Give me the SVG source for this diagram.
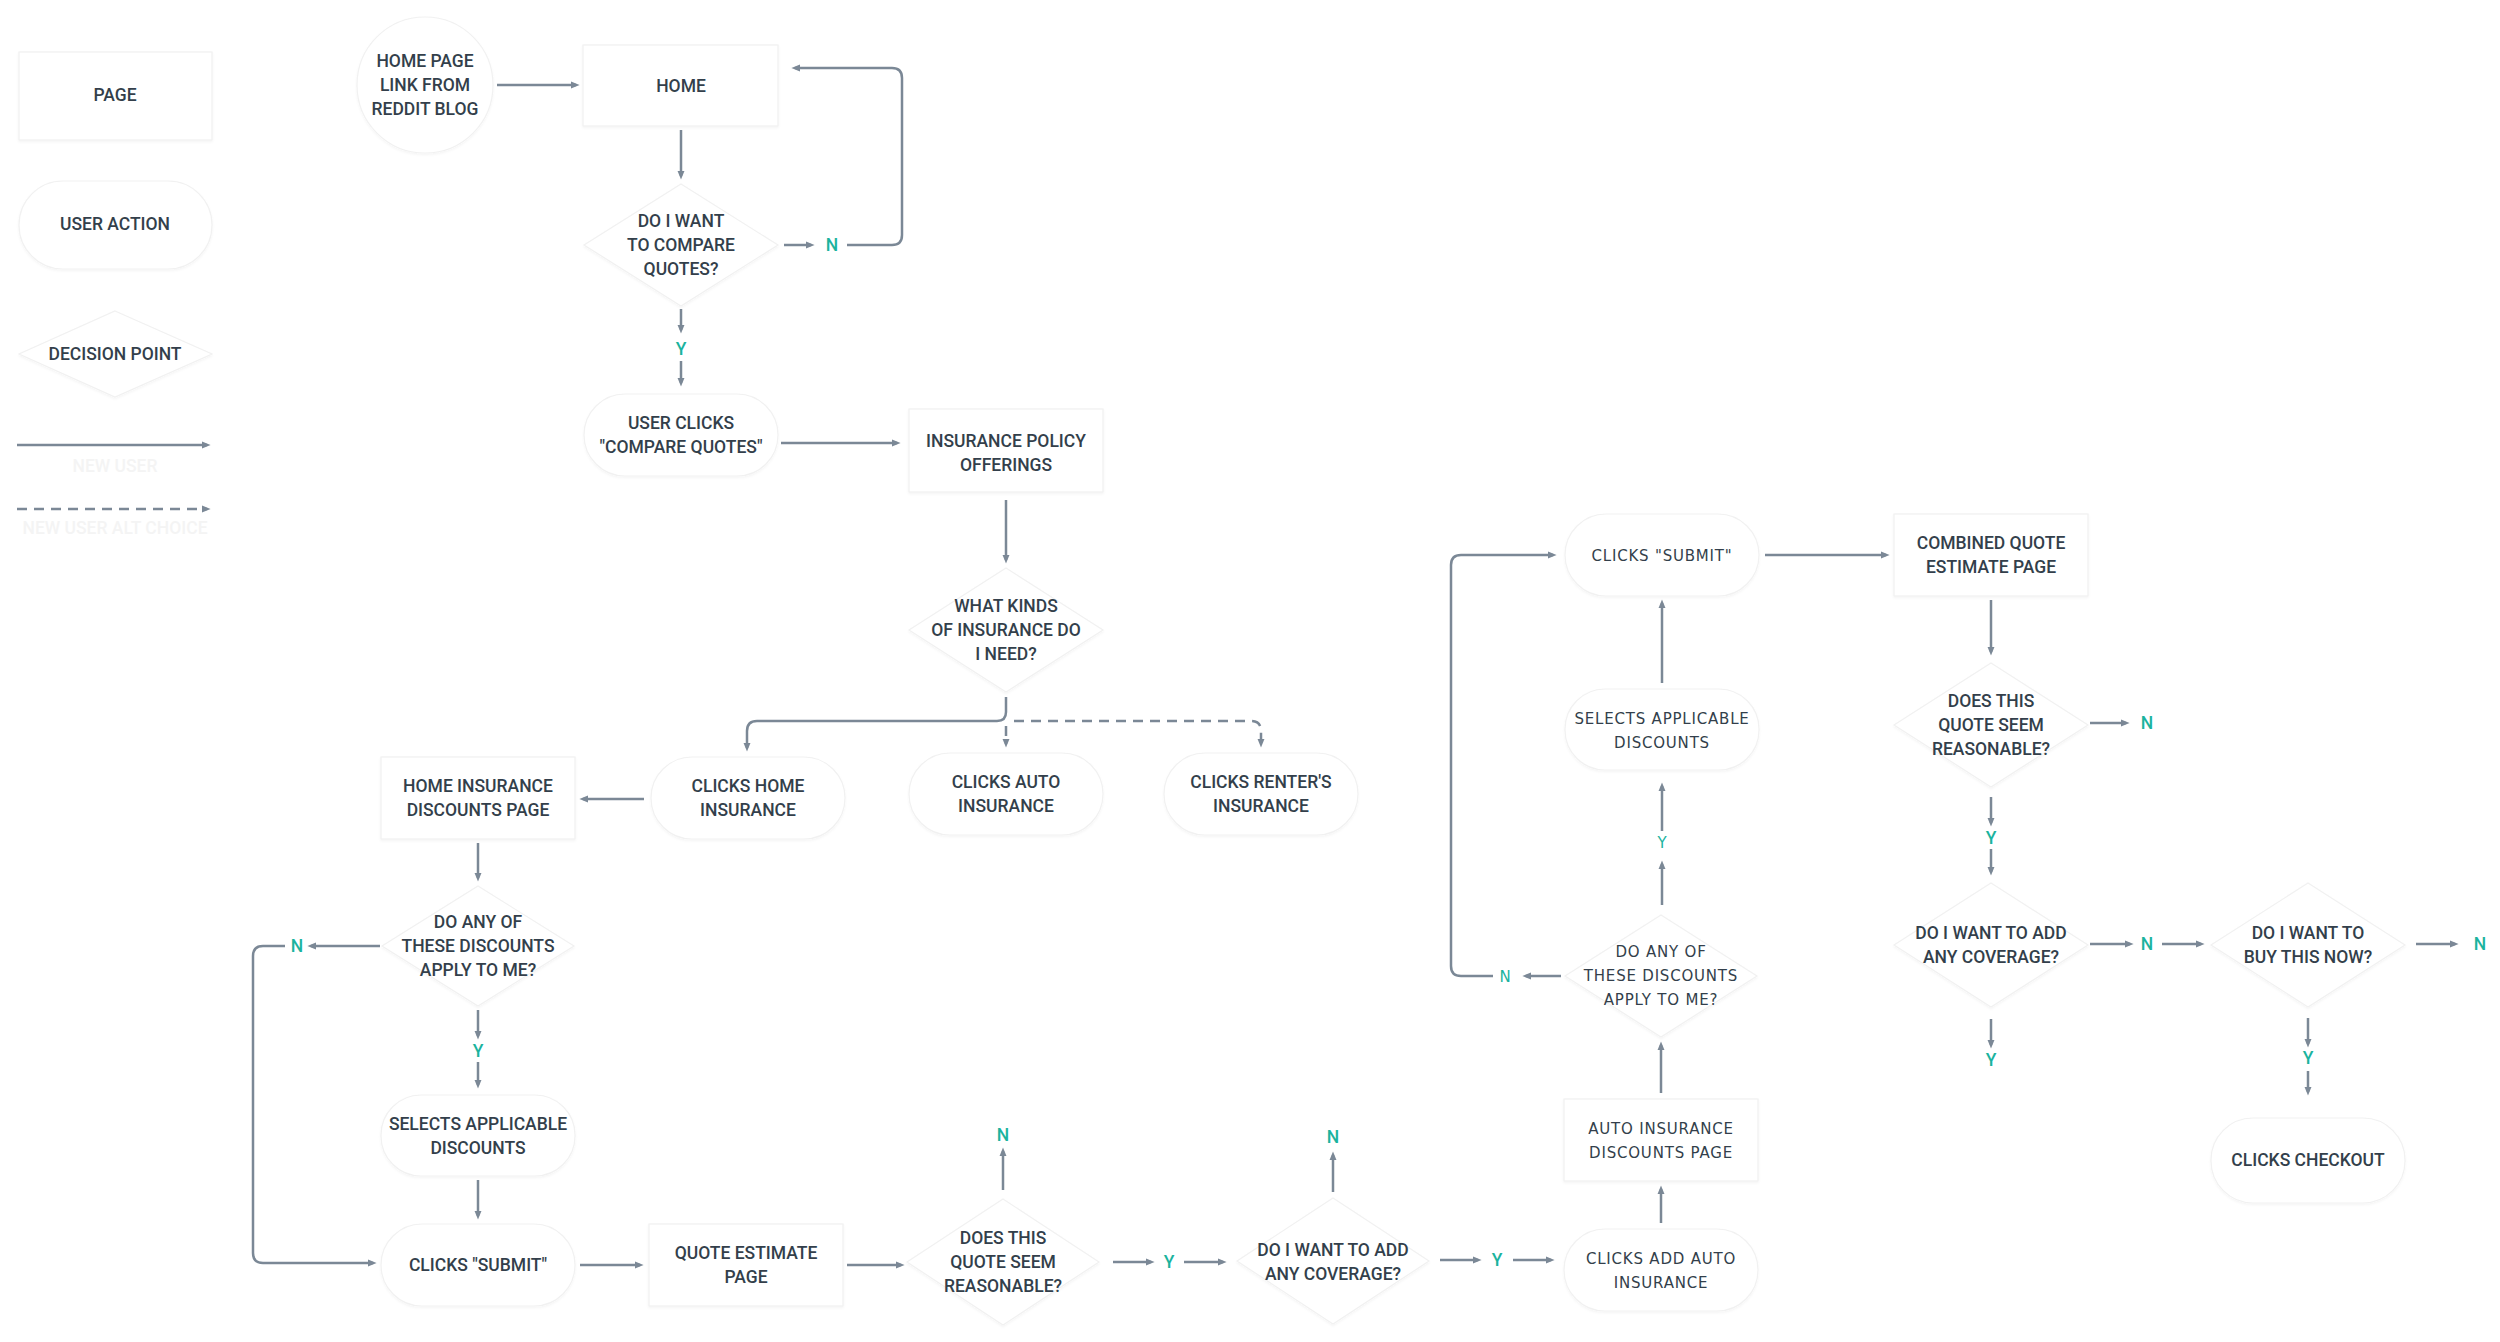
<svg xmlns="http://www.w3.org/2000/svg" width="2500" height="1342" viewBox="0 0 2500 1342">
<defs>
<marker id="ah" viewBox="0 0 10 10" refX="6" refY="5" markerWidth="9" markerHeight="9" markerUnits="userSpaceOnUse" orient="auto"><path d="M0,1 L10,5 L0,9 z" fill="#7b8896"/></marker>
<filter id="sh" x="-10%" y="-10%" width="120%" height="130%"><feDropShadow dx="0" dy="1.5" stdDeviation="1.2" flood-color="#000" flood-opacity="0.045"/></filter>
</defs>
<style>
.n{fill:#fff;stroke:#f1f1f1;stroke-width:1.2;filter:url(#sh)}
.t{font-family:Roboto,"Liberation Sans",sans-serif;font-size:17.5px;font-weight:500;fill:#333f4b;text-anchor:middle}
.w{font-family:"DejaVu Sans","Liberation Sans",sans-serif;font-size:15px;letter-spacing:0.8px;fill:#333f4b;text-anchor:middle}
.yn{font-family:Roboto,"Liberation Sans",sans-serif;font-size:17.5px;font-weight:500;fill:#1bb39e;text-anchor:middle}
.ynw{font-family:"DejaVu Sans","Liberation Sans",sans-serif;font-size:15px;fill:#1bb39e;text-anchor:middle}
.ghost{font-family:Roboto,"Liberation Sans",sans-serif;font-size:17.5px;font-weight:500;fill:#f4f4f4;text-anchor:middle}
.c{fill:none;stroke:#7b8896;stroke-width:2.5}
.a{marker-end:url(#ah)}
.d{stroke-dasharray:10 7}
</style>
<rect width="2500" height="1342" fill="#fff"/>

<!-- legend -->
<g id="legend-page"><rect class="n" x="19" y="52" width="193" height="88"/><text class="t" x="115" y="101">PAGE</text></g>
<g id="legend-action"><rect class="n" x="19" y="181" width="193" height="88" rx="44"/><text class="t" x="115" y="230">USER ACTION</text></g>
<g id="legend-decision"><polygon class="n" points="115,311 212,354 115,397 19,354"/><text class="t" x="115" y="360">DECISION POINT</text></g>
<g id="legend-lines">
<line class="c a" x1="17" y1="445" x2="207" y2="445"/>
<text class="ghost" x="115" y="472">NEW USER</text>
<line class="c a d" x1="17" y1="509" x2="207" y2="509"/>
<text class="ghost" x="115" y="534">NEW USER ALT CHOICE</text>
</g>

<!-- nodes -->
<g id="n-reddit"><circle class="n" cx="425" cy="85" r="68"/><text class="t" x="425" y="67">HOME PAGE</text><text class="t" x="425" y="91">LINK FROM</text><text class="t" x="425" y="115">REDDIT BLOG</text></g>
<g id="n-home"><rect class="n" x="583" y="45" width="195" height="81"/><text class="t" x="681" y="92">HOME</text></g>
<g id="n-compare"><polygon class="n" points="681,184 778,245 681,306 584,245"/><text class="t" x="681" y="227">DO I WANT</text><text class="t" x="681" y="251">TO COMPARE</text><text class="t" x="681" y="275">QUOTES?</text></g>
<g id="n-userclicks"><rect class="n" x="584" y="394" width="194" height="82" rx="41"/><text class="t" x="681" y="429">USER CLICKS</text><text class="t" x="681" y="453">"COMPARE QUOTES"</text></g>
<g id="n-offerings"><rect class="n" x="909" y="409" width="194" height="83"/><text class="t" x="1006" y="447">INSURANCE POLICY</text><text class="t" x="1006" y="471">OFFERINGS</text></g>
<g id="n-kinds"><polygon class="n" points="1006,568 1103,630 1006,692 909,630"/><text class="t" x="1006" y="612">WHAT KINDS</text><text class="t" x="1006" y="636">OF INSURANCE DO</text><text class="t" x="1006" y="660">I NEED?</text></g>
<g id="n-clickshome"><rect class="n" x="651" y="757" width="194" height="82" rx="41"/><text class="t" x="748" y="792">CLICKS HOME</text><text class="t" x="748" y="816">INSURANCE</text></g>
<g id="n-clicksauto"><rect class="n" x="909" y="753" width="194" height="82" rx="41"/><text class="t" x="1006" y="788">CLICKS AUTO</text><text class="t" x="1006" y="812">INSURANCE</text></g>
<g id="n-clicksrenter"><rect class="n" x="1164" y="753" width="194" height="82" rx="41"/><text class="t" x="1261" y="788">CLICKS RENTER'S</text><text class="t" x="1261" y="812">INSURANCE</text></g>
<g id="n-homedisc"><rect class="n" x="381" y="757" width="194" height="82"/><text class="t" x="478" y="792">HOME INSURANCE</text><text class="t" x="478" y="816">DISCOUNTS PAGE</text></g>
<g id="n-homeapply"><polygon class="n" points="478,886 574,946 478,1006 382,946"/><text class="t" x="478" y="928">DO ANY OF</text><text class="t" x="478" y="952">THESE DISCOUNTS</text><text class="t" x="478" y="976">APPLY TO ME?</text></g>
<g id="n-homeselect"><rect class="n" x="381" y="1095" width="194" height="81" rx="40"/><text class="t" x="478" y="1130">SELECTS APPLICABLE</text><text class="t" x="478" y="1154">DISCOUNTS</text></g>
<g id="n-homesubmit"><rect class="n" x="381" y="1224" width="194" height="82" rx="41"/><text class="t" x="478" y="1271">CLICKS "SUBMIT"</text></g>
<g id="n-quoteest"><rect class="n" x="649" y="1224" width="194" height="82"/><text class="t" x="746" y="1259">QUOTE ESTIMATE</text><text class="t" x="746" y="1283">PAGE</text></g>
<g id="n-reasonable1"><polygon class="n" points="1003,1199 1099,1262 1003,1325 907,1262"/><text class="t" x="1003" y="1244">DOES THIS</text><text class="t" x="1003" y="1268">QUOTE SEEM</text><text class="t" x="1003" y="1292">REASONABLE?</text></g>
<g id="n-coverage1"><polygon class="n" points="1333,1198 1429,1261 1333,1324 1237,1261"/><text class="t" x="1333" y="1256">DO I WANT TO ADD</text><text class="t" x="1333" y="1280">ANY COVERAGE?</text></g>
<g id="n-addauto"><rect class="n" x="1564" y="1229" width="194" height="82" rx="41"/><text class="w" x="1661" y="1264">CLICKS ADD AUTO</text><text class="w" x="1661" y="1288">INSURANCE</text></g>
<g id="n-autodisc"><rect class="n" x="1564" y="1099" width="194" height="82"/><text class="w" x="1661" y="1134">AUTO INSURANCE</text><text class="w" x="1661" y="1158">DISCOUNTS PAGE</text></g>
<g id="n-autoapply"><polygon class="n" points="1661,915 1757,976 1661,1037 1565,976"/><text class="w" x="1661" y="957">DO ANY OF</text><text class="w" x="1661" y="981">THESE DISCOUNTS</text><text class="w" x="1661" y="1005">APPLY TO ME?</text></g>
<g id="n-autoselect"><rect class="n" x="1565" y="689" width="194" height="81" rx="40"/><text class="w" x="1662" y="724">SELECTS APPLICABLE</text><text class="w" x="1662" y="748">DISCOUNTS</text></g>
<g id="n-autosubmit"><rect class="n" x="1565" y="514" width="194" height="82" rx="41"/><text class="w" x="1662" y="561">CLICKS "SUBMIT"</text></g>
<g id="n-combined"><rect class="n" x="1894" y="514" width="194" height="82"/><text class="t" x="1991" y="549">COMBINED QUOTE</text><text class="t" x="1991" y="573">ESTIMATE PAGE</text></g>
<g id="n-reasonable2"><polygon class="n" points="1991,663 2088,725 1991,787 1894,725"/><text class="t" x="1991" y="707">DOES THIS</text><text class="t" x="1991" y="731">QUOTE SEEM</text><text class="t" x="1991" y="755">REASONABLE?</text></g>
<g id="n-coverage2"><polygon class="n" points="1991,883 2088,945 1991,1007 1894,945"/><text class="t" x="1991" y="939">DO I WANT TO ADD</text><text class="t" x="1991" y="963">ANY COVERAGE?</text></g>
<g id="n-buynow"><polygon class="n" points="2308,883 2405,945 2308,1007 2211,945"/><text class="t" x="2308" y="939">DO I WANT TO</text><text class="t" x="2308" y="963">BUY THIS NOW?</text></g>
<g id="n-checkout"><rect class="n" x="2211" y="1118" width="194" height="85" rx="42"/><text class="t" x="2308" y="1166">CLICKS CHECKOUT</text></g>

<!-- connectors -->
<g id="connectors">
<line class="c a" x1="497" y1="85" x2="576" y2="85"/>
<line class="c a" x1="681" y1="130" x2="681" y2="176"/>
<line class="c a" x1="784" y1="245" x2="811" y2="245"/>
<path class="c a" d="M847,245 H892 Q902,245 902,235 V78 Q902,68 892,68 H795"/>
<line class="c a" x1="681" y1="309" x2="681" y2="330"/>
<line class="c a" x1="681" y1="361" x2="681" y2="383"/>
<line class="c a" x1="781" y1="443" x2="897" y2="443"/>
<line class="c a" x1="1006" y1="500" x2="1006" y2="560"/>
<path class="c a" d="M1006,697 V712 Q1006,721 997,721 H757 Q747,721 747,731 V748"/>
<line class="c a d" x1="1006" y1="726" x2="1006" y2="744"/>
<path class="c a d" d="M1014,721 H1251 Q1261,721 1261,731 V744"/>
<line class="c a" x1="644" y1="799" x2="583" y2="799"/>
<line class="c a" x1="478" y1="843" x2="478" y2="878"/>
<line class="c a" x1="380" y1="946" x2="311" y2="946"/>
<path class="c a" d="M285,946 H263 Q253,946 253,956 V1253 Q253,1263 263,1263 H373"/>
<line class="c a" x1="478" y1="1010" x2="478" y2="1036"/>
<line class="c a" x1="478" y1="1062" x2="478" y2="1085"/>
<line class="c a" x1="478" y1="1180" x2="478" y2="1216"/>
<line class="c a" x1="580" y1="1265" x2="640" y2="1265"/>
<line class="c a" x1="847" y1="1265" x2="901" y2="1265"/>
<line class="c a" x1="1003" y1="1190" x2="1003" y2="1151"/>
<line class="c a" x1="1113" y1="1262" x2="1151" y2="1262"/>
<line class="c a" x1="1184" y1="1262" x2="1223" y2="1262"/>
<line class="c a" x1="1333" y1="1192" x2="1333" y2="1155"/>
<line class="c a" x1="1440" y1="1260" x2="1478" y2="1260"/>
<line class="c a" x1="1513" y1="1260" x2="1551" y2="1260"/>
<line class="c a" x1="1661" y1="1223" x2="1661" y2="1189"/>
<line class="c a" x1="1661" y1="1093" x2="1661" y2="1045"/>
<line class="c a" x1="1561" y1="976" x2="1526" y2="976"/>
<path class="c a" d="M1493,976 H1461 Q1451,976 1451,966 V565 Q1451,555 1461,555 H1553"/>
<line class="c a" x1="1662" y1="905" x2="1662" y2="864"/>
<line class="c a" x1="1662" y1="831" x2="1662" y2="786"/>
<line class="c a" x1="1662" y1="683" x2="1662" y2="603"/>
<line class="c a" x1="1765" y1="555" x2="1886" y2="555"/>
<line class="c a" x1="1991" y1="600" x2="1991" y2="652"/>
<line class="c a" x1="2090" y1="723" x2="2126" y2="723"/>
<line class="c a" x1="1991" y1="797" x2="1991" y2="823"/>
<line class="c a" x1="1991" y1="849" x2="1991" y2="872"/>
<line class="c a" x1="2090" y1="944" x2="2130" y2="944"/>
<line class="c a" x1="2162" y1="944" x2="2201" y2="944"/>
<line class="c a" x1="1991" y1="1019" x2="1991" y2="1045"/>
<line class="c a" x1="2416" y1="944" x2="2455" y2="944"/>
<line class="c a" x1="2308" y1="1018" x2="2308" y2="1044"/>
<line class="c a" x1="2308" y1="1071" x2="2308" y2="1092"/>
</g>

<!-- Y / N labels -->
<g id="labels">
<text class="yn" x="832" y="251">N</text>
<text class="yn" x="681" y="355">Y</text>
<text class="yn" x="297" y="952">N</text>
<text class="yn" x="478" y="1057">Y</text>
<text class="yn" x="1003" y="1141">N</text>
<text class="yn" x="1169" y="1268">Y</text>
<text class="yn" x="1333" y="1143">N</text>
<text class="yn" x="1497" y="1266">Y</text>
<text class="ynw" x="1505" y="982">N</text>
<text class="ynw" x="1662" y="848">Y</text>
<text class="yn" x="2147" y="729">N</text>
<text class="yn" x="1991" y="844">Y</text>
<text class="yn" x="2147" y="950">N</text>
<text class="yn" x="1991" y="1066">Y</text>
<text class="yn" x="2480" y="950">N</text>
<text class="yn" x="2308" y="1064">Y</text>
</g>
</svg>
